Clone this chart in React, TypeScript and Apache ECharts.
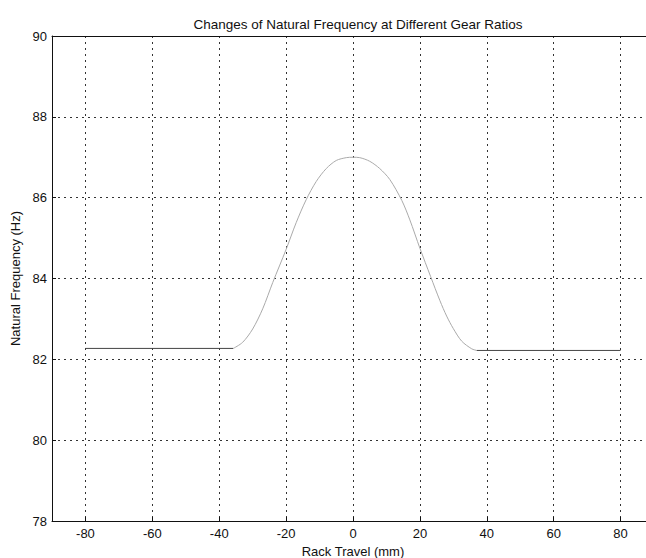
import React, { useEffect, useRef } from "react";
import * as echarts from "echarts";

const xTicks = [-80, -60, -40, -20, 0, 20, 40, 60, 80];

const leftFlat: [number, number][] = [
  [-80, 82.27],
  [-35.8, 82.27],
];
const curve: [number, number][] = [
  [-35.8, 82.27],
  [-33, 82.42],
  [-30, 82.75],
  [-27, 83.25],
  [-24, 83.9],
  [-20, 84.72],
  [-17, 85.38],
  [-14, 85.95],
  [-11, 86.4],
  [-8, 86.72],
  [-5, 86.92],
  [-2, 86.99],
  [0, 87.0],
  [2, 86.99],
  [5, 86.9],
  [8, 86.72],
  [11, 86.45],
  [14.6, 85.93],
  [17, 85.45],
  [20, 84.75],
  [23.2, 84.05],
  [26, 83.45],
  [28, 83.07],
  [30, 82.76],
  [32.5, 82.45],
  [35.5, 82.26],
  [37, 82.22],
];
const rightFlat: [number, number][] = [
  [37, 82.22],
  [80, 82.22],
];

export default function App() {
  const ref = useRef<HTMLDivElement>(null);
  useEffect(() => {
    if (!ref.current) return;
    const chart = echarts.init(ref.current, undefined, { renderer: "svg" });
    const font = "Liberation Sans, Arial, sans-serif";
    const grid = { type: [2, 4], color: "#333", width: 1 };
    chart.setOption({
      animation: false,
      backgroundColor: "#fff",
      title: {
        text: "Changes of Natural Frequency at Different Gear Ratios",
        left: 353,
        textAlign: "center",
        top: 12,
        textStyle: { fontFamily: font, fontSize: 13.5, fontWeight: "normal", color: "#111" },
      },
      grid: { left: 52, right: -8, top: 36, bottom: 37, outerBoundsMode: "none" },
      xAxis: [
        {
          type: "value",
          min: -90,
          max: 90,
          name: "Rack Travel (mm)",
          nameLocation: "middle",
          nameGap: 22,
          nameTextStyle: { fontFamily: font, fontSize: 13, color: "#111" },
          axisLine: { show: true, onZero: false, lineStyle: { color: "#111", width: 1 } },
          axisTick: { show: true, inside: true, length: 4, customValues: xTicks, lineStyle: { color: "#111" } },
          axisLabel: { customValues: xTicks, fontFamily: font, fontSize: 13, color: "#111", margin: 6 },
          splitLine: { show: true, lineStyle: grid },
        },
        {
          type: "value",
          position: "top",
          min: -90,
          max: 90,
          axisLine: { show: true, onZero: false, lineStyle: { color: "#111", width: 1 } },
          axisTick: { show: false },
          axisLabel: { show: false },
          splitLine: { show: false },
        },
      ],
      yAxis: {
        type: "value",
        min: 78,
        max: 90,
        interval: 2,
        name: "Natural Frequency (Hz)",
        nameLocation: "middle",
        nameGap: 29,
        nameTextStyle: { fontFamily: font, fontSize: 13, color: "#111" },
        axisLine: { show: true, onZero: false, lineStyle: { color: "#111", width: 1 } },
        axisTick: { show: true, inside: true, length: 4, lineStyle: { color: "#111" } },
        axisLabel: { fontFamily: font, fontSize: 13, color: "#111", margin: 5 },
        splitLine: { show: true, lineStyle: grid },
      },
      series: [
        {
          type: "line",
          data: leftFlat,
          showSymbol: false,
          lineStyle: { color: "#444", width: 1 },
        },
        {
          type: "line",
          data: curve,
          showSymbol: false,
          smooth: 0.3,
          lineStyle: { color: "#aaa", width: 1 },
        },
        {
          type: "line",
          data: rightFlat,
          showSymbol: false,
          lineStyle: { color: "#444", width: 1 },
        },
      ],
    });
    return () => chart.dispose();
  }, []);
  return <div ref={ref} style={{ width: 646, height: 558, position: "absolute", left: 0, top: 0 }} />;
}
